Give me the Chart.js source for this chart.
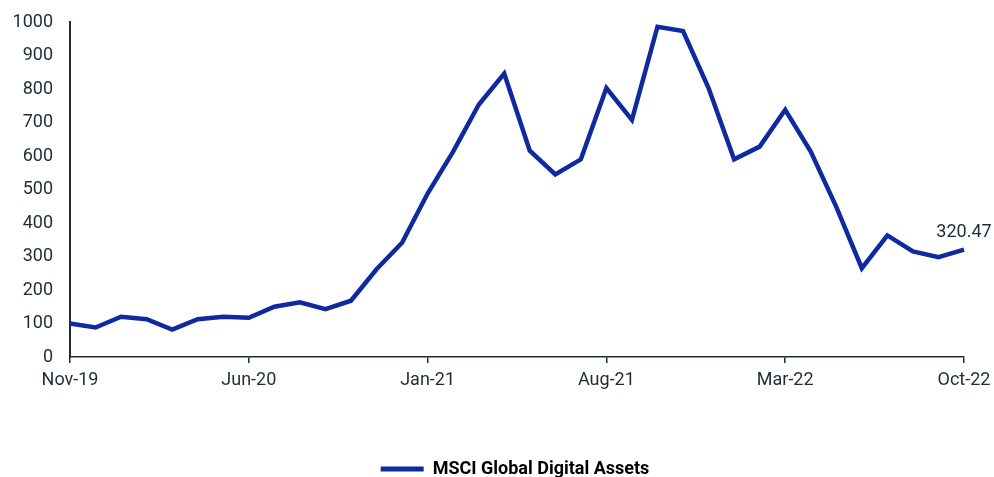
<!DOCTYPE html>
<html>
<head>
<meta charset="utf-8">
<script src="https://cdn.jsdelivr.net/npm/chart.js@4/dist/chart.umd.min.js"></script>
<style>
  html, body { margin: 0; padding: 0; background: #fff; }
  #wrap { width: 994px; height: 477px; position: relative; }
</style>
</head>
<body>
<div id="wrap"><canvas id="chart"></canvas></div>
<script>
// monthly index level, Nov-19 .. Oct-22
const months = [
  'Nov-19', 'Dec-19', 'Jan-20', 'Feb-20', 'Mar-20', 'Apr-20', 'May-20', 'Jun-20',
  'Jul-20', 'Aug-20', 'Sep-20', 'Oct-20', 'Nov-20', 'Dec-20', 'Jan-21', 'Feb-21',
  'Mar-21', 'Apr-21', 'May-21', 'Jun-21', 'Jul-21', 'Aug-21', 'Sep-21', 'Oct-21',
  'Nov-21', 'Dec-21', 'Jan-22', 'Feb-22', 'Mar-22', 'Apr-22', 'May-22', 'Jun-22',
  'Jul-22', 'Aug-22', 'Sep-22', 'Oct-22'
];
const msciDigital = [
  100, 88, 120, 113, 82, 113, 120, 117,
  150, 163, 143, 168, 262, 341, 488, 613,
  753, 846, 616, 545, 590, 803, 708, 986,
  973, 803, 590, 628, 738, 613, 448, 265,
  363, 315, 298, 320.47
];
const seriesName = 'MSCI Global Digital Assets';
const labelEvery = 7;

const ink = '#1f2c38';
const blue = '#0e2a9e';

// prints the latest value next to the last point
const lastValueLabel = {
  id: 'lastValueLabel',
  afterDatasetsDraw(chart) {
    const meta = chart.getDatasetMeta(0);
    const pt = meta.data[meta.data.length - 1];
    const v = chart.data.datasets[0].data[meta.data.length - 1];
    const ctx = chart.ctx;
    ctx.save();
    ctx.font = '18px Roboto';
    ctx.fillStyle = ink;
    ctx.textAlign = 'center';
    ctx.textBaseline = 'middle';
    ctx.fillText(v.toFixed(2), pt.x, pt.y - 17);
    ctx.restore();
  }
};

// legend in the original sits a bit right of the canvas centre
const legendNudge = {
  id: 'legendNudge',
  afterLayout(chart) {
    chart.legend.left += 33;
    chart.legend.right += 33;
  }
};

new Chart(document.getElementById('chart'), {
  type: 'line',
  data: {
    labels: months,
    datasets: [{
      label: seriesName,
      data: msciDigital,
      borderColor: blue,
      backgroundColor: blue,
      borderWidth: 4.5,
      pointRadius: 0,
      tension: 0,
      fill: false
    }]
  },
  options: {
    responsive: true,
    maintainAspectRatio: false,
    animation: false,
    layout: { padding: { top: 22, right: 30, left: 0, bottom: -11 } },
    plugins: {
      legend: {
        position: 'bottom',
        labels: {
          color: ink,
          font: { family: 'Roboto', size: 18, weight: 'bold' },
          boxWidth: 43,
          boxHeight: 5,
          padding: 0,
          generateLabels: chart => [{
            text: seriesName,
            fillStyle: blue,
            strokeStyle: blue,
            lineWidth: 0,
            datasetIndex: 0
          }]
        }
      },
      tooltip: { enabled: false }
    },
    scales: {
      x: {
        afterFit: scale => {
          scale.height = 103;
          scale.paddingLeft = 0;
          scale.paddingRight = 0;
        },
        border: { display: true, color: ink, width: 1.5 },
        grid: {
          drawOnChartArea: false,
          drawTicks: true,
          tickLength: 6,
          lineWidth: 1.5,
          color: ctx => (ctx.index % labelEvery === 0 ? ink : 'rgba(0,0,0,0)')
        },
        ticks: {
          autoSkip: false,
          maxRotation: 0,
          padding: 7,
          color: ink,
          font: { family: 'Roboto', size: 18 },
          callback: (val, i) => (i % labelEvery === 0 ? months[i] : '')
        }
      },
      y: {
        min: 0,
        max: 1000,
        afterFit: scale => {
          scale.width = 70;
          scale.paddingTop = 0;
          scale.paddingBottom = 0;
        },
        border: { display: true, color: ink, width: 2 },
        grid: { display: false, drawTicks: false },
        ticks: {
          stepSize: 100,
          padding: 17,
          color: ink,
          font: { family: 'Roboto', size: 18 },
          callback: v => String(v)
        }
      }
    }
  },
  plugins: [lastValueLabel, legendNudge]
});
</script>
</body>
</html>
